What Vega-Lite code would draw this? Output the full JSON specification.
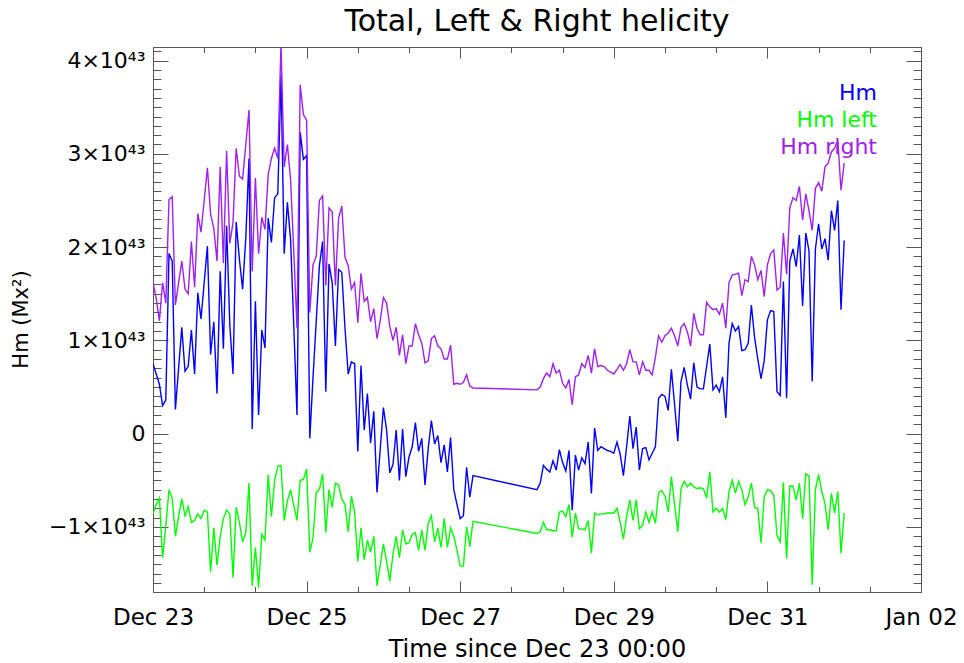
{
"$schema":"https://vega.github.io/schema/vega-lite/v6.json",
"width":768,"height":545,
"autosize":"none",
"padding":{"left":153,"top":47,"right":43,"bottom":71},
"background":"white",
"config":{"view":{"stroke":null},"font":"DejaVu Sans"},
"title":{"text":"Total, Left & Right helicity","fontSize":30,"font":"DejaVu Sans","fontWeight":"normal","color":"black","anchor":"middle","frame":"group","baseline":"alphabetic","offset":14,"dy":34},
"data":{"values":[
{"t":"2023-12-23T00:00","Hm":0.75e43,"Hm left":-0.86e43,"Hm right":1.62e43},
{"t":"2023-12-23T01:00","Hm":0.64e43,"Hm left":-0.76e43,"Hm right":1.45e43},
{"t":"2023-12-23T02:00","Hm":0.53e43,"Hm left":-0.69e43,"Hm right":1.21e43},
{"t":"2023-12-23T03:00","Hm":0.30e43,"Hm left":-1.33e43,"Hm right":1.62e43},
{"t":"2023-12-23T04:00","Hm":0.36e43,"Hm left":-0.99e43,"Hm right":1.40e43},
{"t":"2023-12-23T05:00","Hm":1.93e43,"Hm left":-0.60e43,"Hm right":2.51e43},
{"t":"2023-12-23T06:00","Hm":1.85e43,"Hm left":-0.69e43,"Hm right":2.54e43},
{"t":"2023-12-23T07:00","Hm":0.26e43,"Hm left":-1.10e43,"Hm right":1.38e43},
{"t":"2023-12-23T08:00","Hm":0.70e43,"Hm left":-0.89e43,"Hm right":1.62e43},
{"t":"2023-12-23T09:00","Hm":1.14e43,"Hm left":-0.70e43,"Hm right":1.85e43},
{"t":"2023-12-23T10:00","Hm":0.67e43,"Hm left":-0.88e43,"Hm right":1.55e43},
{"t":"2023-12-23T11:00","Hm":0.72e43,"Hm left":-0.78e43,"Hm right":1.50e43},
{"t":"2023-12-23T12:00","Hm":1.11e43,"Hm left":-0.95e43,"Hm right":2.06e43},
{"t":"2023-12-23T13:00","Hm":0.64e43,"Hm left":-0.93e43,"Hm right":1.57e43},
{"t":"2023-12-23T14:00","Hm":1.51e43,"Hm left":-0.86e43,"Hm right":2.36e43},
{"t":"2023-12-23T15:00","Hm":1.23e43,"Hm left":-0.91e43,"Hm right":2.16e43},
{"t":"2023-12-23T16:00","Hm":1.62e43,"Hm left":-0.82e43,"Hm right":2.50e43},
{"t":"2023-12-23T17:00","Hm":2.01e43,"Hm left":-0.84e43,"Hm right":2.85e43},
{"t":"2023-12-23T18:00","Hm":0.85e43,"Hm left":-1.48e43,"Hm right":2.35e43},
{"t":"2023-12-23T19:00","Hm":1.20e43,"Hm left":-1.01e43,"Hm right":2.20e43},
{"t":"2023-12-23T20:00","Hm":0.43e43,"Hm left":-1.41e43,"Hm right":1.85e43},
{"t":"2023-12-23T21:00","Hm":1.74e43,"Hm left":-1.10e43,"Hm right":2.86e43},
{"t":"2023-12-23T22:00","Hm":0.91e43,"Hm left":-0.91e43,"Hm right":1.83e43},
{"t":"2023-12-23T23:00","Hm":2.23e43,"Hm left":-0.82e43,"Hm right":3.03e43},
{"t":"2023-12-24T00:00","Hm":1.17e43,"Hm left":-0.86e43,"Hm right":2.04e43},
{"t":"2023-12-24T01:00","Hm":0.64e43,"Hm left":-1.54e43,"Hm right":2.26e43},
{"t":"2023-12-24T02:00","Hm":2.27e43,"Hm left":-0.79e43,"Hm right":3.06e43},
{"t":"2023-12-24T03:00","Hm":1.87e43,"Hm left":-0.95e43,"Hm right":2.76e43},
{"t":"2023-12-24T04:00","Hm":1.55e43,"Hm left":-1.16e43,"Hm right":2.73e43},
{"t":"2023-12-24T05:00","Hm":2.10e43,"Hm left":-1.06e43,"Hm right":3.10e43},
{"t":"2023-12-24T06:00","Hm":2.95e43,"Hm left":-0.53e43,"Hm right":3.47e43},
{"t":"2023-12-24T07:00","Hm":0.05e43,"Hm left":-1.63e43,"Hm right":1.74e43},
{"t":"2023-12-24T08:00","Hm":1.42e43,"Hm left":-1.22e43,"Hm right":2.74e43},
{"t":"2023-12-24T09:00","Hm":0.20e43,"Hm left":-1.65e43,"Hm right":1.93e43},
{"t":"2023-12-24T10:00","Hm":1.11e43,"Hm left":-1.08e43,"Hm right":2.32e43},
{"t":"2023-12-24T11:00","Hm":0.92e43,"Hm left":-1.14e43,"Hm right":2.19e43},
{"t":"2023-12-24T12:00","Hm":2.31e43,"Hm left":-0.44e43,"Hm right":2.78e43},
{"t":"2023-12-24T13:00","Hm":2.05e43,"Hm left":-0.89e43,"Hm right":2.95e43},
{"t":"2023-12-24T14:00","Hm":2.53e43,"Hm left":-0.50e43,"Hm right":3.06e43},
{"t":"2023-12-24T15:00","Hm":2.57e43,"Hm left":-0.35e43,"Hm right":2.95e43},
{"t":"2023-12-24T16:00","Hm":3.84e43,"Hm left":-0.34e43,"Hm right":4.18e43},
{"t":"2023-12-24T17:00","Hm":1.93e43,"Hm left":-0.93e43,"Hm right":2.86e43},
{"t":"2023-12-24T18:00","Hm":2.48e43,"Hm left":-0.72e43,"Hm right":3.10e43},
{"t":"2023-12-24T19:00","Hm":2.08e43,"Hm left":-0.60e43,"Hm right":2.72e43},
{"t":"2023-12-24T20:00","Hm":1.15e43,"Hm left":-0.77e43,"Hm right":1.95e43},
{"t":"2023-12-24T21:00","Hm":0.20e43,"Hm left":-0.93e43,"Hm right":1.13e43},
{"t":"2023-12-24T22:00","Hm":3.23e43,"Hm left":-0.50e43,"Hm right":3.74e43},
{"t":"2023-12-24T23:00","Hm":2.94e43,"Hm left":-0.49e43,"Hm right":3.42e43},
{"t":"2023-12-25T00:00","Hm":2.98e43,"Hm left":-0.38e43,"Hm right":3.36e43},
{"t":"2023-12-25T01:00","Hm":-0.05e43,"Hm left":-1.27e43,"Hm right":1.30e43},
{"t":"2023-12-25T02:00","Hm":0.60e43,"Hm left":-1.12e43,"Hm right":1.81e43},
{"t":"2023-12-25T03:00","Hm":1.20e43,"Hm left":-0.63e43,"Hm right":1.90e43},
{"t":"2023-12-25T04:00","Hm":1.80e43,"Hm left":-0.60e43,"Hm right":2.50e43},
{"t":"2023-12-25T05:00","Hm":2.06e43,"Hm left":-0.43e43,"Hm right":2.55e43},
{"t":"2023-12-25T06:00","Hm":0.45e43,"Hm left":-1.06e43,"Hm right":1.59e43},
{"t":"2023-12-25T07:00","Hm":1.82e43,"Hm left":-0.60e43,"Hm right":2.42e43},
{"t":"2023-12-25T08:00","Hm":1.62e43,"Hm left":-0.79e43,"Hm right":2.38e43},
{"t":"2023-12-25T09:00","Hm":0.94e43,"Hm left":-0.53e43,"Hm right":1.59e43},
{"t":"2023-12-25T10:00","Hm":1.76e43,"Hm left":-0.55e43,"Hm right":2.31e43},
{"t":"2023-12-25T11:00","Hm":1.73e43,"Hm left":-0.70e43,"Hm right":2.44e43},
{"t":"2023-12-25T12:00","Hm":1.13e43,"Hm left":-0.76e43,"Hm right":1.89e43},
{"t":"2023-12-25T13:00","Hm":0.64e43,"Hm left":-1.05e43,"Hm right":1.80e43},
{"t":"2023-12-25T14:00","Hm":0.77e43,"Hm left":-0.67e43,"Hm right":1.55e43},
{"t":"2023-12-25T15:00","Hm":0.75e43,"Hm left":-0.84e43,"Hm right":1.62e43},
{"t":"2023-12-25T16:00","Hm":-0.19e43,"Hm left":-1.37e43,"Hm right":1.19e43},
{"t":"2023-12-25T17:00","Hm":0.73e43,"Hm left":-1.01e43,"Hm right":1.72e43},
{"t":"2023-12-25T18:00","Hm":0.04e43,"Hm left":-1.35e43,"Hm right":1.42e43},
{"t":"2023-12-25T19:00","Hm":0.43e43,"Hm left":-1.14e43,"Hm right":1.46e43},
{"t":"2023-12-25T20:00","Hm":-0.10e43,"Hm left":-1.27e43,"Hm right":1.20e43},
{"t":"2023-12-25T21:00","Hm":0.24e43,"Hm left":-1.10e43,"Hm right":1.34e43},
{"t":"2023-12-25T22:00","Hm":-0.63e43,"Hm left":-1.63e43,"Hm right":1.02e43},
{"t":"2023-12-25T23:00","Hm":-0.17e43,"Hm left":-1.41e43,"Hm right":1.21e43},
{"t":"2023-12-26T00:00","Hm":0.28e43,"Hm left":-1.18e43,"Hm right":1.46e43},
{"t":"2023-12-26T01:00","Hm":0.04e43,"Hm left":-1.37e43,"Hm right":1.40e43},
{"t":"2023-12-26T02:00","Hm":-0.42e43,"Hm left":-1.58e43,"Hm right":1.15e43},
{"t":"2023-12-26T03:00","Hm":-0.33e43,"Hm left":-1.29e43,"Hm right":1.00e43},
{"t":"2023-12-26T04:00","Hm":0.04e43,"Hm left":-1.10e43,"Hm right":1.14e43},
{"t":"2023-12-26T05:00","Hm":-0.50e43,"Hm left":-1.33e43,"Hm right":0.84e43},
{"t":"2023-12-26T06:00","Hm":0.05e43,"Hm left":-1.03e43,"Hm right":1.06e43},
{"t":"2023-12-26T07:00","Hm":-0.46e43,"Hm left":-1.18e43,"Hm right":0.75e43},
{"t":"2023-12-26T08:00","Hm":-0.25e43,"Hm left":-1.17e43,"Hm right":0.94e43},
{"t":"2023-12-26T09:00","Hm":-0.14e43,"Hm left":-1.08e43,"Hm right":0.94e43},
{"t":"2023-12-26T10:00","Hm":0.12e43,"Hm left":-1.06e43,"Hm right":1.18e43},
{"t":"2023-12-26T11:00","Hm":-0.19e43,"Hm left":-1.25e43,"Hm right":1.06e43},
{"t":"2023-12-26T12:00","Hm":-0.05e43,"Hm left":-1.03e43,"Hm right":0.97e43},
{"t":"2023-12-26T13:00","Hm":-0.55e43,"Hm left":-1.25e43,"Hm right":0.76e43},
{"t":"2023-12-26T14:00","Hm":-0.16e43,"Hm left":-0.96e43,"Hm right":0.78e43},
{"t":"2023-12-26T15:00","Hm":0.14e43,"Hm left":-0.88e43,"Hm right":1.02e43},
{"t":"2023-12-26T16:00","Hm":-0.11e43,"Hm left":-1.16e43,"Hm right":1.05e43},
{"t":"2023-12-26T17:00","Hm":-0.02e43,"Hm left":-1.01e43,"Hm right":0.94e43},
{"t":"2023-12-26T18:00","Hm":-0.31e43,"Hm left":-1.22e43,"Hm right":0.91e43},
{"t":"2023-12-26T19:00","Hm":-0.12e43,"Hm left":-0.91e43,"Hm right":0.80e43},
{"t":"2023-12-26T20:00","Hm":-0.41e43,"Hm left":-1.22e43,"Hm right":0.80e43},
{"t":"2023-12-26T21:00","Hm":-0.04e43,"Hm left":-1.01e43,"Hm right":0.95e43},
{"t":"2023-12-26T22:00","Hm":-0.60e43,"Hm left":-1.10e43,"Hm right":0.53e43},
{"t":"2023-12-26T23:00","Hm":-0.76e43,"Hm left":-1.25e43,"Hm right":0.54e43},
{"t":"2023-12-27T00:00","Hm":-0.91e43,"Hm left":-1.42e43,"Hm right":0.53e43},
{"t":"2023-12-27T01:00","Hm":-0.88e43,"Hm left":-1.42e43,"Hm right":0.55e43},
{"t":"2023-12-27T02:00","Hm":-0.36e43,"Hm left":-1.00e43,"Hm right":0.63e43},
{"t":"2023-12-27T03:00","Hm":-0.68e43,"Hm left":-1.21e43,"Hm right":0.51e43},
{"t":"2023-12-27T04:00","Hm":-0.45e43,"Hm left":-0.94e43,"Hm right":0.49e43},
{"t":"2023-12-28T00:00","Hm":-0.60e43,"Hm left":-1.07e43,"Hm right":0.47e43},
{"t":"2023-12-28T01:00","Hm":-0.53e43,"Hm left":-1.05e43,"Hm right":0.50e43},
{"t":"2023-12-28T02:00","Hm":-0.34e43,"Hm left":-0.95e43,"Hm right":0.59e43},
{"t":"2023-12-28T03:00","Hm":-0.38e43,"Hm left":-1.03e43,"Hm right":0.65e43},
{"t":"2023-12-28T04:00","Hm":-0.41e43,"Hm left":-1.03e43,"Hm right":0.61e43},
{"t":"2023-12-28T05:00","Hm":-0.29e43,"Hm left":-1.04e43,"Hm right":0.75e43},
{"t":"2023-12-28T06:00","Hm":-0.39e43,"Hm left":-1.04e43,"Hm right":0.65e43},
{"t":"2023-12-28T07:00","Hm":-0.17e43,"Hm left":-0.84e43,"Hm right":0.68e43},
{"t":"2023-12-28T08:00","Hm":-0.31e43,"Hm left":-0.83e43,"Hm right":0.54e43},
{"t":"2023-12-28T09:00","Hm":-0.40e43,"Hm left":-0.89e43,"Hm right":0.49e43},
{"t":"2023-12-28T10:00","Hm":-0.18e43,"Hm left":-0.76e43,"Hm right":0.58e43},
{"t":"2023-12-28T11:00","Hm":-0.82e43,"Hm left":-1.11e43,"Hm right":0.31e43},
{"t":"2023-12-28T12:00","Hm":-0.23e43,"Hm left":-0.85e43,"Hm right":0.61e43},
{"t":"2023-12-28T13:00","Hm":-0.39e43,"Hm left":-1.02e43,"Hm right":0.63e43},
{"t":"2023-12-28T14:00","Hm":-0.26e43,"Hm left":-1.02e43,"Hm right":0.75e43},
{"t":"2023-12-28T15:00","Hm":-0.32e43,"Hm left":-1.03e43,"Hm right":0.71e43},
{"t":"2023-12-28T16:00","Hm":-0.09e43,"Hm left":-0.93e43,"Hm right":0.84e43},
{"t":"2023-12-28T17:00","Hm":-0.64e43,"Hm left":-1.28e43,"Hm right":0.65e43},
{"t":"2023-12-28T18:00","Hm":0.06e43,"Hm left":-0.85e43,"Hm right":0.91e43},
{"t":"2023-12-28T19:00","Hm":-0.18e43,"Hm left":-0.87e43,"Hm right":0.72e43},
{"t":"2023-12-28T20:00","Hm":-0.14e43,"Hm left":-0.86e43,"Hm right":0.73e43},
{"t":"2023-12-28T21:00","Hm":-0.16e43,"Hm left":-0.86e43,"Hm right":0.72e43},
{"t":"2023-12-28T22:00","Hm":-0.18e43,"Hm left":-0.85e43,"Hm right":0.68e43},
{"t":"2023-12-28T23:00","Hm":-0.19e43,"Hm left":-0.85e43,"Hm right":0.66e43},
{"t":"2023-12-29T00:00","Hm":-0.21e43,"Hm left":-0.85e43,"Hm right":0.64e43},
{"t":"2023-12-29T01:00","Hm":-0.09e43,"Hm left":-0.80e43,"Hm right":0.69e43},
{"t":"2023-12-29T02:00","Hm":-0.22e43,"Hm left":-0.95e43,"Hm right":0.74e43},
{"t":"2023-12-29T03:00","Hm":-0.45e43,"Hm left":-1.13e43,"Hm right":0.68e43},
{"t":"2023-12-29T04:00","Hm":-0.14e43,"Hm left":-0.89e43,"Hm right":0.75e43},
{"t":"2023-12-29T05:00","Hm":0.19e43,"Hm left":-0.71e43,"Hm right":0.90e43},
{"t":"2023-12-29T06:00","Hm":-0.16e43,"Hm left":-0.93e43,"Hm right":0.77e43},
{"t":"2023-12-29T07:00","Hm":0.07e43,"Hm left":-0.71e43,"Hm right":0.77e43},
{"t":"2023-12-29T08:00","Hm":-0.39e43,"Hm left":-1.02e43,"Hm right":0.63e43},
{"t":"2023-12-29T09:00","Hm":-0.16e43,"Hm left":-0.98e43,"Hm right":0.77e43},
{"t":"2023-12-29T10:00","Hm":-0.15e43,"Hm left":-0.84e43,"Hm right":0.68e43},
{"t":"2023-12-29T11:00","Hm":-0.28e43,"Hm left":-0.95e43,"Hm right":0.68e43},
{"t":"2023-12-29T12:00","Hm":-0.21e43,"Hm left":-0.84e43,"Hm right":0.63e43},
{"t":"2023-12-29T13:00","Hm":-0.14e43,"Hm left":-0.96e43,"Hm right":0.82e43},
{"t":"2023-12-29T14:00","Hm":0.38e43,"Hm left":-0.63e43,"Hm right":1.05e43},
{"t":"2023-12-29T15:00","Hm":0.42e43,"Hm left":-0.61e43,"Hm right":0.98e43},
{"t":"2023-12-29T16:00","Hm":0.40e43,"Hm left":-0.67e43,"Hm right":1.05e43},
{"t":"2023-12-29T17:00","Hm":0.25e43,"Hm left":-0.84e43,"Hm right":1.08e43},
{"t":"2023-12-29T18:00","Hm":0.69e43,"Hm left":-0.46e43,"Hm right":1.13e43},
{"t":"2023-12-29T19:00","Hm":0.31e43,"Hm left":-0.76e43,"Hm right":1.05e43},
{"t":"2023-12-29T20:00","Hm":-0.08e43,"Hm left":-1.05e43,"Hm right":0.94e43},
{"t":"2023-12-29T21:00","Hm":0.56e43,"Hm left":-0.59e43,"Hm right":1.14e43},
{"t":"2023-12-29T22:00","Hm":0.71e43,"Hm left":-0.51e43,"Hm right":1.18e43},
{"t":"2023-12-29T23:00","Hm":0.52e43,"Hm left":-0.57e43,"Hm right":1.09e43},
{"t":"2023-12-30T00:00","Hm":0.37e43,"Hm left":-0.53e43,"Hm right":0.94e43},
{"t":"2023-12-30T01:00","Hm":0.76e43,"Hm left":-0.57e43,"Hm right":1.29e43},
{"t":"2023-12-30T02:00","Hm":0.50e43,"Hm left":-0.59e43,"Hm right":1.13e43},
{"t":"2023-12-30T03:00","Hm":0.48e43,"Hm left":-0.58e43,"Hm right":1.06e43},
{"t":"2023-12-30T04:00","Hm":0.48e43,"Hm left":-0.59e43,"Hm right":1.06e43},
{"t":"2023-12-30T05:00","Hm":0.72e43,"Hm left":-0.69e43,"Hm right":1.41e43},
{"t":"2023-12-30T06:00","Hm":0.96e43,"Hm left":-0.41e43,"Hm right":1.36e43},
{"t":"2023-12-30T07:00","Hm":0.47e43,"Hm left":-0.84e43,"Hm right":1.33e43},
{"t":"2023-12-30T08:00","Hm":0.52e43,"Hm left":-0.80e43,"Hm right":1.34e43},
{"t":"2023-12-30T09:00","Hm":0.45e43,"Hm left":-0.84e43,"Hm right":1.28e43},
{"t":"2023-12-30T10:00","Hm":0.61e43,"Hm left":-0.80e43,"Hm right":1.40e43},
{"t":"2023-12-30T11:00","Hm":0.17e43,"Hm left":-0.92e43,"Hm right":1.13e43},
{"t":"2023-12-30T12:00","Hm":0.97e43,"Hm left":-0.62e43,"Hm right":1.62e43},
{"t":"2023-12-30T13:00","Hm":1.18e43,"Hm left":-0.50e43,"Hm right":1.70e43},
{"t":"2023-12-30T14:00","Hm":1.10e43,"Hm left":-0.64e43,"Hm right":1.71e43},
{"t":"2023-12-30T15:00","Hm":1.15e43,"Hm left":-0.51e43,"Hm right":1.72e43},
{"t":"2023-12-30T16:00","Hm":0.89e43,"Hm left":-0.60e43,"Hm right":1.48e43},
{"t":"2023-12-30T17:00","Hm":0.90e43,"Hm left":-0.76e43,"Hm right":1.65e43},
{"t":"2023-12-30T18:00","Hm":0.97e43,"Hm left":-0.68e43,"Hm right":1.63e43},
{"t":"2023-12-30T19:00","Hm":1.38e43,"Hm left":-0.53e43,"Hm right":1.90e43},
{"t":"2023-12-30T20:00","Hm":1.03e43,"Hm left":-0.79e43,"Hm right":1.81e43},
{"t":"2023-12-30T21:00","Hm":0.80e43,"Hm left":-0.80e43,"Hm right":1.65e43},
{"t":"2023-12-30T22:00","Hm":0.59e43,"Hm left":-1.17e43,"Hm right":1.75e43},
{"t":"2023-12-30T23:00","Hm":0.78e43,"Hm left":-0.68e43,"Hm right":1.47e43},
{"t":"2023-12-31T00:00","Hm":1.22e43,"Hm left":-0.60e43,"Hm right":1.81e43},
{"t":"2023-12-31T01:00","Hm":1.32e43,"Hm left":-0.61e43,"Hm right":1.93e43},
{"t":"2023-12-31T02:00","Hm":1.31e43,"Hm left":-0.66e43,"Hm right":1.97e43},
{"t":"2023-12-31T03:00","Hm":0.45e43,"Hm left":-1.09e43,"Hm right":1.54e43},
{"t":"2023-12-31T04:00","Hm":0.41e43,"Hm left":-1.16e43,"Hm right":1.57e43},
{"t":"2023-12-31T05:00","Hm":1.63e43,"Hm left":-0.52e43,"Hm right":2.15e43},
{"t":"2023-12-31T06:00","Hm":0.38e43,"Hm left":-1.34e43,"Hm right":1.71e43},
{"t":"2023-12-31T07:00","Hm":1.85e43,"Hm left":-0.56e43,"Hm right":2.42e43},
{"t":"2023-12-31T08:00","Hm":1.98e43,"Hm left":-0.56e43,"Hm right":2.53e43},
{"t":"2023-12-31T09:00","Hm":1.79e43,"Hm left":-0.71e43,"Hm right":2.50e43},
{"t":"2023-12-31T10:00","Hm":2.13e43,"Hm left":-0.53e43,"Hm right":2.65e43},
{"t":"2023-12-31T11:00","Hm":1.37e43,"Hm left":-0.91e43,"Hm right":2.29e43},
{"t":"2023-12-31T12:00","Hm":2.15e43,"Hm left":-0.43e43,"Hm right":2.57e43},
{"t":"2023-12-31T13:00","Hm":1.96e43,"Hm left":-0.45e43,"Hm right":2.39e43},
{"t":"2023-12-31T14:00","Hm":0.56e43,"Hm left":-1.62e43,"Hm right":2.18e43},
{"t":"2023-12-31T15:00","Hm":1.98e43,"Hm left":-0.60e43,"Hm right":2.63e43},
{"t":"2023-12-31T16:00","Hm":2.25e43,"Hm left":-0.44e43,"Hm right":2.69e43},
{"t":"2023-12-31T17:00","Hm":1.98e43,"Hm left":-0.62e43,"Hm right":2.60e43},
{"t":"2023-12-31T18:00","Hm":2.09e43,"Hm left":-0.75e43,"Hm right":2.86e43},
{"t":"2023-12-31T19:00","Hm":1.86e43,"Hm left":-1.03e43,"Hm right":2.90e43},
{"t":"2023-12-31T20:00","Hm":2.39e43,"Hm left":-0.64e43,"Hm right":3.02e43},
{"t":"2023-12-31T21:00","Hm":2.18e43,"Hm left":-0.85e43,"Hm right":3.06e43},
{"t":"2023-12-31T22:00","Hm":2.50e43,"Hm left":-0.62e43,"Hm right":3.15e43},
{"t":"2023-12-31T23:00","Hm":1.33e43,"Hm left":-1.28e43,"Hm right":2.61e43},
{"t":"2024-01-01T00:00","Hm":2.07e43,"Hm left":-0.85e43,"Hm right":2.90e43}
]},
"transform":[{"fold":["Hm","Hm left","Hm right"],"as":["series","value"]}],
"resolve":{"axis":{"x":"independent","y":"independent"}},
"layer":[
{"mark":{"type":"line","strokeWidth":1.4,"clip":true},
 "encoding":{
  "x":{"field":"t","type":"temporal",
   "scale":{"domain":[{"year":2023,"month":12,"date":23},{"year":2024,"month":1,"date":2}]},
   "axis":{"orient":"bottom","values":[{"year":2023,"month":12,"date":23},{"year":2023,"month":12,"date":25},{"year":2023,"month":12,"date":27},{"year":2023,"month":12,"date":29},{"year":2023,"month":12,"date":31},{"year":2024,"month":1,"date":2}],
    "format":"%b %d","ticks":false,"domain":false,"grid":false,"labelFont":"DejaVu Sans","labelFontSize":23,"labelColor":"black","labelPadding":14,"labelFlush":false,"labelOverlap":false,
    "title":"Time since Dec 23 00:00","titleFont":"DejaVu Sans","titleFontSize":24,"titleFontWeight":"normal","titleColor":"black","titleBaseline":"alphabetic","titleY":64,"titleX":384,"titleAnchor":"middle","titleAlign":"center"}},
  "y":{"field":"value","type":"quantitative",
   "scale":{"domain":[-1.697e43,4.145e43],"nice":false,"zero":false},
   "axis":{"orient":"left","values":[-1e43,0,1e43,2e43,3e43,4e43],
    "labelExpr":"datum.value == 0 ? '0' : (datum.value < 0 ? '−' : '') + format(abs(datum.value)/1e43, '.0f') + '×10⁴³'",
    "ticks":false,"domain":false,"grid":false,"labelFont":"DejaVu Sans","labelFontSize":22,"labelColor":"black","labelPadding":8,"labelFlush":false,"labelOverlap":false,
    "title":"Hm (Mx²)","titleFont":"DejaVu Sans","titleFontSize":21,"titleFontWeight":"normal","titleColor":"black","titleAngle":-90,"titleBaseline":"alphabetic","titleAlign":"center","titleX":-126,"titleY":272}},
  "color":{"field":"series","type":"nominal",
   "scale":{"domain":["Hm","Hm left","Hm right"],"range":["#0000ff","#00ff00","#a020f0"]},
   "legend":{"orient":"none","legendX":702,"legendY":35,"title":null,"symbolSize":0,"symbolStrokeWidth":0,"symbolOpacity":0,"labelAlign":"right","labelOffset":0,"labelFont":"DejaVu Sans","labelFontSize":22,"rowPadding":5,"labelLimit":0,
    "encode":{"labels":{"update":{"fill":{"signal":"scale('color', datum.value)"}}}}}
  }
 }
},
{"mark":{"type":"point","opacity":0},
 "encoding":{
  "x":{"field":"t","type":"temporal","axis":{"orient":"bottom","values":[{"year":2023,"month":12,"date":23},{"year":2023,"month":12,"date":25},{"year":2023,"month":12,"date":27},{"year":2023,"month":12,"date":29},{"year":2023,"month":12,"date":31},{"year":2024,"month":1,"date":2}],"labels":false,"grid":false,"tickSize":-11,"tickColor":"#555555","domainColor":"#555555","tickWidth":1,"domainWidth":1,"title":null}},
  "y":{"field":"value","type":"quantitative","axis":{"orient":"left","values":[-1e43,0,1e43,2e43,3e43,4e43],"labels":false,"grid":false,"tickSize":-15,"tickColor":"#555555","domainColor":"#555555","tickWidth":1,"domainWidth":1,"title":null}}
 }
},
{"mark":{"type":"point","opacity":0},
 "encoding":{
  "x":{"field":"t","type":"temporal","axis":{"orient":"bottom","values":[{"year":2023,"month":12,"date":23,"hours":16},{"year":2023,"month":12,"date":24,"hours":8},{"year":2023,"month":12,"date":25,"hours":16},{"year":2023,"month":12,"date":26,"hours":8},{"year":2023,"month":12,"date":27,"hours":16},{"year":2023,"month":12,"date":28,"hours":8},{"year":2023,"month":12,"date":29,"hours":16},{"year":2023,"month":12,"date":30,"hours":8},{"year":2023,"month":12,"date":31,"hours":16},{"year":2024,"month":1,"date":1,"hours":8}],"labels":false,"grid":false,"domain":false,"tickSize":-5.5,"tickColor":"#555555","tickWidth":1,"title":null}},
  "y":{"field":"value","type":"quantitative","axis":{"orient":"left","values":[-1.6e43,-1.5e43,-1.4e43,-1.3e43,-1.2e43,-1.1e43,-0.9e43,-0.8e43,-0.7e43,-0.6e43,-0.5e43,-0.4e43,-0.3e43,-0.2e43,-0.1e43,0.1e43,0.2e43,0.3e43,0.4e43,0.5e43,0.6e43,0.7e43,0.8e43,0.9e43,1.1e43,1.2e43,1.3e43,1.4e43,1.5e43,1.6e43,1.7e43,1.8e43,1.9e43,2.1e43,2.2e43,2.3e43,2.4e43,2.5e43,2.6e43,2.7e43,2.8e43,2.9e43,3.1e43,3.2e43,3.3e43,3.4e43,3.5e43,3.6e43,3.7e43,3.8e43,3.9e43,4.1e43],"labels":false,"grid":false,"domain":false,"tickSize":-8,"tickColor":"#555555","tickWidth":1,"title":null}}
 }
},
{"mark":{"type":"point","opacity":0},
 "encoding":{
  "x":{"field":"t","type":"temporal","axis":{"orient":"top","values":[{"year":2023,"month":12,"date":23},{"year":2023,"month":12,"date":25},{"year":2023,"month":12,"date":27},{"year":2023,"month":12,"date":29},{"year":2023,"month":12,"date":31},{"year":2024,"month":1,"date":2}],"labels":false,"grid":false,"tickSize":-11,"tickColor":"#555555","domainColor":"#555555","tickWidth":1,"domainWidth":1,"title":null}},
  "y":{"field":"value","type":"quantitative","axis":{"orient":"right","values":[-1e43,0,1e43,2e43,3e43,4e43],"labels":false,"grid":false,"tickSize":-15,"tickColor":"#555555","domainColor":"#555555","tickWidth":1,"domainWidth":1,"title":null}}
 }
},
{"mark":{"type":"point","opacity":0},
 "encoding":{
  "x":{"field":"t","type":"temporal","axis":{"orient":"top","values":[{"year":2023,"month":12,"date":23,"hours":16},{"year":2023,"month":12,"date":24,"hours":8},{"year":2023,"month":12,"date":25,"hours":16},{"year":2023,"month":12,"date":26,"hours":8},{"year":2023,"month":12,"date":27,"hours":16},{"year":2023,"month":12,"date":28,"hours":8},{"year":2023,"month":12,"date":29,"hours":16},{"year":2023,"month":12,"date":30,"hours":8},{"year":2023,"month":12,"date":31,"hours":16},{"year":2024,"month":1,"date":1,"hours":8}],"labels":false,"grid":false,"domain":false,"tickSize":-5.5,"tickColor":"#555555","tickWidth":1,"title":null}},
  "y":{"field":"value","type":"quantitative","axis":{"orient":"right","values":[-1.6e43,-1.5e43,-1.4e43,-1.3e43,-1.2e43,-1.1e43,-0.9e43,-0.8e43,-0.7e43,-0.6e43,-0.5e43,-0.4e43,-0.3e43,-0.2e43,-0.1e43,0.1e43,0.2e43,0.3e43,0.4e43,0.5e43,0.6e43,0.7e43,0.8e43,0.9e43,1.1e43,1.2e43,1.3e43,1.4e43,1.5e43,1.6e43,1.7e43,1.8e43,1.9e43,2.1e43,2.2e43,2.3e43,2.4e43,2.5e43,2.6e43,2.7e43,2.8e43,2.9e43,3.1e43,3.2e43,3.3e43,3.4e43,3.5e43,3.6e43,3.7e43,3.8e43,3.9e43,4.1e43],"labels":false,"grid":false,"domain":false,"tickSize":-8,"tickColor":"#555555","tickWidth":1,"title":null}}
 }
}
]
}
